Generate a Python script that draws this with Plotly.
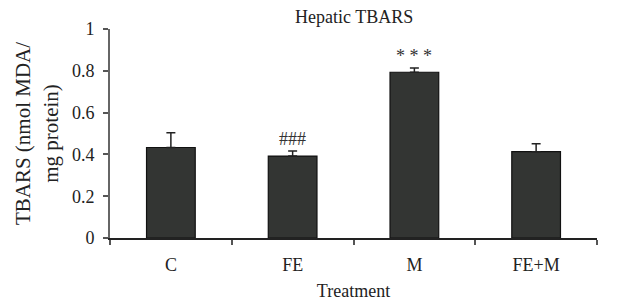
import plotly.graph_objects as go

categories = ["C", "FE", "M", "FE+M"]
values = [0.433, 0.392, 0.793, 0.413]
errors = [0.07, 0.024, 0.02, 0.038]
marks = ["", "###", "* * *", ""]
y_ticks = [0, 0.2, 0.4, 0.6, 0.8, 1]
y_tick_text = ["0", "0.2", "0.4", "0.6", "0.8", "1"]

font = "Liberation Serif, Times New Roman, serif"
txt = "#222222"

fig = go.Figure()
fig.add_trace(go.Bar(
    x=categories, y=values, width=0.40,
    marker=dict(color="#333533", line=dict(color="#111111", width=1.2)),
    error_y=dict(type="data", array=errors, arrayminus=[0] * len(errors),
                 symmetric=False, color="#222222", thickness=1.5, width=4.5),
))
for c, v, e, m in zip(categories, values, errors, marks):
    if m:
        fig.add_annotation(x=c, y=v + e, text=m, showarrow=False, yanchor="bottom",
                           yshift=0, font=dict(family=font, size=18, color="#333333"))

fig.add_annotation(text="Hepatic TBARS", xref="paper", yref="paper", x=0.5, y=1,
                   xanchor="center", yanchor="middle", yshift=12, showarrow=False,
                   font=dict(family=font, size=18, color=txt))

fig.update_layout(
    width=640, height=306,
    margin=dict(l=102, r=51, t=11, b=76),
    plot_bgcolor="white", paper_bgcolor="white",
    showlegend=False,
    font=dict(family=font, size=18, color=txt),
    xaxis=dict(
        type="category", tickson="boundaries", ticks="outside", ticklen=5,
        tickcolor="#555555", tickwidth=1.5, showline=True, linecolor="#222222", linewidth=1.5,
        range=[-0.5, 3.5], ticklabelstandoff=10,
        tickfont=dict(family=font, size=18, color=txt),
        title=dict(text="Treatment", font=dict(family=font, size=18, color=txt), standoff=10),
        showgrid=False,
    ),
    yaxis=dict(
        range=[0, 1], tickvals=y_ticks, ticktext=y_tick_text,
        ticks="outside", ticklen=5, tickcolor="#555555", tickwidth=1.5,
        ticklabelstandoff=5,
        tickfont=dict(family=font, size=18, color=txt),
        showline=True, linecolor="#666666", linewidth=2,
        showgrid=False, zeroline=False,
        title=dict(text="TBARS (nmol MDA/<br>mg protein)",
                   font=dict(family=font, size=21, color=txt), standoff=8),
    ),
)

fig.write_html("out.html")
